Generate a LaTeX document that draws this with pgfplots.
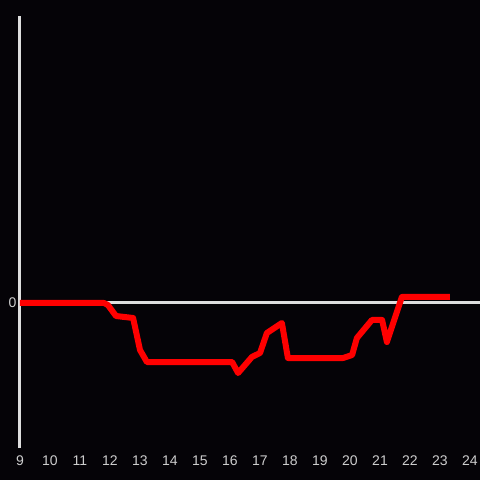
\documentclass[border=0pt]{standalone}
\usepackage{pgfplots}
\pgfplotsset{compat=1.18}
\usepackage{fontspec}
\setmainfont{Liberation Sans}
\definecolor{bg}{RGB}{5,3,7}
\definecolor{axgray}{RGB}{222,222,222}
\definecolor{lbl}{RGB}{205,205,205}
\begin{document}
\begin{tikzpicture}
\fill[bg] (-20pt,-32pt) rectangle (460pt,448pt);
\begin{axis}[
  at={(0,0)}, anchor=south west,
  scale only axis,
  width=460pt, height=432pt,
  xmin=9, xmax=24.3333,
  ymin=-145, ymax=287,
  axis line style={draw=none},
  tick style={draw=none},
  xtick={9,10,...,24},
  ytick={0},
  ticklabel style={font=\fontsize{14}{16}\selectfont, text=lbl},
  /pgf/number format/assume math mode=true,
  xticklabel style={yshift=-4pt},
  yticklabel style={xshift=0pt},
  clip=false,
]
\draw[axgray, line width=3pt] (axis cs:9,-145) -- (axis cs:9,287);
\draw[axgray, line width=3pt] (axis cs:9,0) -- (axis cs:24.3333,0);
\addplot[red, line width=6pt, line join=round, line cap=butt, mark=none] coordinates {
(9,0) (11.8,0) (11.93,-2) (12.2,-13) (12.77,-15) (13.0,-47) (13.23,-59)
(16.07,-59) (16.27,-70) (16.73,-54) (17.0,-50) (17.23,-30) (17.73,-20)
(17.93,-55) (19.77,-55) (20.07,-52) (20.23,-35) (20.73,-17) (21.07,-17)
(21.23,-39) (21.73,6) (23.33,6)
};
\end{axis}
\pgfresetboundingbox
\useasboundingbox (-20pt,-32pt) rectangle (460pt,448pt);
\end{tikzpicture}
\end{document}
